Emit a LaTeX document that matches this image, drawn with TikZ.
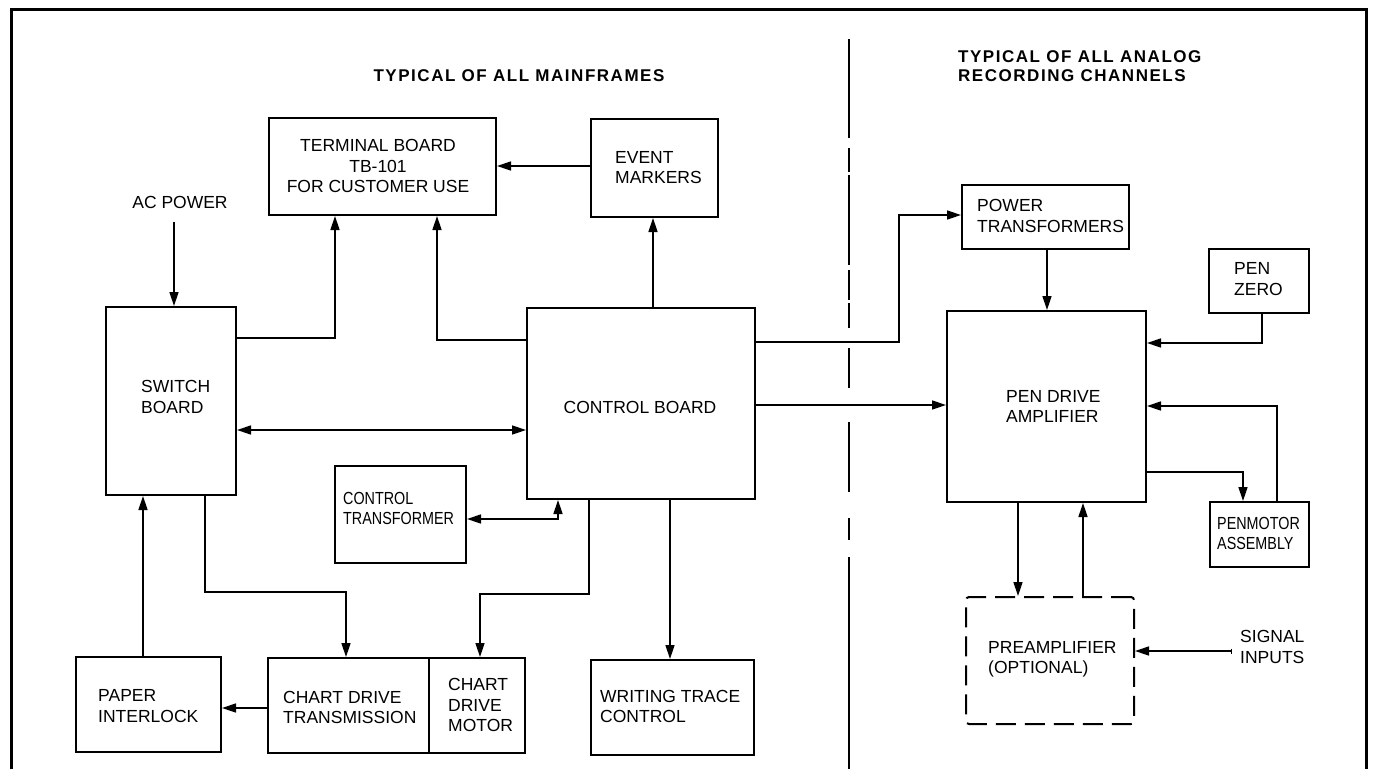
\documentclass[tikz,border=0pt]{standalone}
\usepackage{fontspec}
\usepackage{graphicx}
\setmainfont{Liberation Sans}
\usetikzlibrary{arrows.meta}
\newcommand{\cnd}[1]{\scalebox{.82}[1]{#1}}
\begin{document}
\begin{tikzpicture}[x=1pt,y=-1pt,
  box/.style={draw, line width=2pt, inner sep=0pt},
  lbl/.style={font=\fontsize{17.5}{20.5}\selectfont, align=left, inner sep=0pt, anchor=west},
  ttl/.style={font=\fontsize{17}{19.5}\selectfont\bfseries\addfontfeatures{LetterSpace=9}, align=left, inner sep=0pt},
  tip/.tip={Triangle[length=14pt,width=9pt]},
  arr/.style={line width=1.5pt, -tip},
  darr/.style={line width=1.5pt, tip-tip},
  ln/.style={line width=1.5pt}]
\useasboundingbox (0,0) rectangle (1374,769);
% frame
\draw[line width=3pt] (11,769) -- (11,9) -- (1366,9) -- (1366,769);
% divider (dash-dot)
\foreach \a/\b in {39/138,148/172,175/265,270/300,303/328,348/388,422/492,518/540,557/769}
  \draw[line width=2pt] (849,\a) -- (849,\b);
% titles
\node[ttl, anchor=center] (t1) at (519,76) {TYPICAL OF ALL MAINFRAMES};
\node[ttl, anchor=west] (t2) at (958,66) {TYPICAL OF ALL ANALOG\\RECORDING CHANNELS};
% boxes
\node[box, minimum width=227, minimum height=97] (tb) at (382.5,166.5) {};
\node[box, minimum width=127, minimum height=98] (em) at (654.5,168) {};
\node[box, minimum width=130, minimum height=188] (sw) at (171,401) {};
\node[box, minimum width=228, minimum height=191] (cb) at (641,403.5) {};
\node[box, minimum width=131, minimum height=97] (ct) at (400.5,514.5) {};
\node[box, minimum width=145, minimum height=95] (pi) at (148.5,704.5) {};
\node[box, minimum width=161, minimum height=95] (cdt) at (348.5,705.5) {};
\node[box, minimum width=96, minimum height=95] (cdm) at (477,705.5) {};
\node[box, minimum width=163, minimum height=95] (wtc) at (672.5,707.5) {};
\node[box, minimum width=167, minimum height=64] (pt) at (1045.5,217) {};
\node[box, minimum width=100, minimum height=64] (pz) at (1259,281) {};
\node[box, minimum width=199, minimum height=191] (pda) at (1046.5,406.5) {};
\node[box, minimum width=99, minimum height=65] (pm) at (1259.5,534.5) {};
\node[box, dash pattern=on 20pt off 9pt, rounded corners=3pt, minimum width=168, minimum height=127] (pre) at (1050,660.5) {};
% labels
\node[lbl, anchor=center, align=center] (tbl) at (378,166) {TERMINAL BOARD\\TB-101\\FOR CUSTOMER USE};
\node[lbl] (eml) at (615,167.5) {EVENT\\MARKERS};
\node[lbl, anchor=center] (acp) at (180,202) {AC POWER};
\node[lbl] (swl) at (141,397) {SWITCH\\BOARD};
\node[lbl, anchor=center] (cbl) at (640,407) {CONTROL BOARD};
\node[lbl] (ctl) at (343,508.5) {\cnd{CONTROL}\\\cnd{TRANSFORMER}};
\node[lbl] (pil) at (98,706) {PAPER\\INTERLOCK};
\node[lbl] (cdtl) at (283,707.5) {CHART DRIVE\\TRANSMISSION};
\node[lbl] (cdml) at (448,705) {CHART\\DRIVE\\MOTOR};
\node[lbl] (wtcl) at (600,706.5) {WRITING TRACE\\CONTROL};
\node[lbl] (ptl) at (977,216) {POWER\\TRANSFORMERS};
\node[lbl] (pzl) at (1234,279) {PEN\\ZERO};
\node[lbl] (pdal) at (1006,406.5) {PEN DRIVE\\AMPLIFIER};
\node[lbl] (pml) at (1217,533.5) {\cnd{PENMOTOR}\\\cnd{ASSEMBLY}};
\node[lbl] (prel) at (988,659.5) {PREAMPLIFIER\\(OPTIONAL)};
\node[lbl] (sig) at (1240,647) {SIGNAL\\INPUTS};
% free ends
\coordinate (acpe) at (174,222);
\coordinate (sige) at (1232,651);
% connectors
\draw[arr] (acpe) -- (sw.north -| acpe);
\draw[arr] (em.west |- 0,166) -- (tb.east |- 0,166);
\draw[arr] (sw.east |- 0,338) -| (tb.south -| 335,0);
\draw[arr] (cb.west |- 0,340) -| (tb.south -| 437,0);
\draw[arr] (cb.north -| 653,0) -- (em.south -| 653,0);
\draw[darr] (sw.east |- 0,430) -- (cb.west |- 0,430);
\draw[darr] (ct.east |- 0,519) -| (cb.south -| 558,0);
\draw[arr] (sw.south -| 205,0) -- (205,592) -- (346,592) -- (cdt.north -| 346,0);
\draw[arr] (cb.south -| 589,0) -- (589,594) -- (480,594) -- (cdm.north -| 480,0);
\draw[arr] (cb.south -| 670,0) -- (wtc.north -| 670,0);
\draw[arr] (pi.north -| 143,0) -- (sw.south -| 143,0);
\draw[arr] (cdt.west |- 0,708) -- (pi.east |- 0,708);
\draw[arr] (cb.east |- 0,342) -- (899,342) -- (899,215) -- (pt.west |- 0,215);
\draw[arr] (cb.east |- 0,405) -- (pda.west |- 0,405);
\draw[arr] (pt.south -| 1047,0) -- (pda.north -| 1047,0);
\draw[arr] (pz.south -| 1262,0) |- (pda.east |- 0,343);
\draw[arr] (pm.north -| 1277,0) |- (pda.east |- 0,406);
\draw[arr] (pda.east |- 0,472) -| (pm.north -| 1243,0);
\draw[arr] (pda.south -| 1018,0) -- (pre.north -| 1018,0);
\draw[arr] (pre.north -| 1083,0) -- (pda.south -| 1083,0);
\draw[line width=1.5pt, {Bar[width=5pt]}-tip] (sige) -- (pre.east |- sige);
\end{tikzpicture}
\end{document}
